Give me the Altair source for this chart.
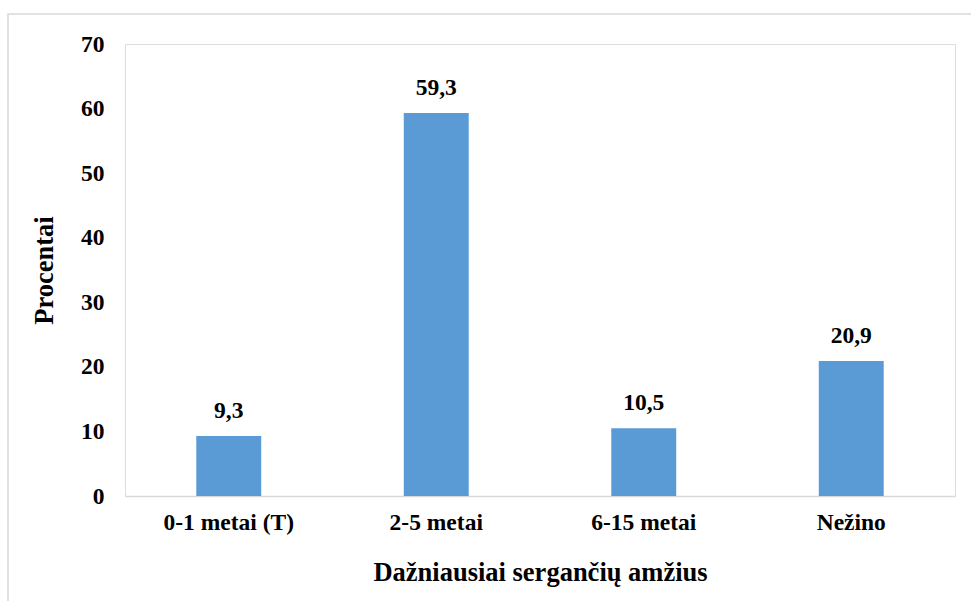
import altair as alt
import pandas as pd

categories = ["0-1 metai (T)", "2-5 metai", "6-15 metai", "Nežino"]
values = [9.3, 59.3, 10.5, 20.9]

df = pd.DataFrame({"cat": categories, "v": values})

FONT = "Liberation Serif"

base = alt.Chart(df)

x_enc = alt.X(
    "cat:N",
    sort=categories,
    scale=alt.Scale(paddingInner=0.687, paddingOuter=0.3435),
    axis=alt.Axis(
        title="Dažniausiai sergančių amžius",
        labelAngle=0,
        labelFont=FONT,
        labelFontSize=23.5,
        labelFontWeight="bold",
        labelColor="#000000",
        labelPadding=14,
        ticks=False,
        domainColor="#d9d9d9",
        domainWidth=1.5,
        titleFont=FONT,
        titleFontSize=26.5,
        titleFontWeight="bold",
        titleColor="#000000",
        titlePadding=26,
        grid=False,
    ),
)
y_enc = alt.Y(
    "v:Q",
    scale=alt.Scale(domain=[0, 70]),
    axis=alt.Axis(
        title="Procentai",
        values=[0, 10, 20, 30, 40, 50, 60, 70],
        labelFont=FONT,
        labelFontSize=23.5,
        labelFontWeight="bold",
        labelColor="#000000",
        labelPadding=21,
        ticks=False,
        domain=False,
        grid=False,
        titleFont=FONT,
        titleFontSize=26.5,
        titleFontWeight="bold",
        titleColor="#000000",
        titlePadding=22,
    ),
)

bars = base.mark_bar(color="#5b9bd5").encode(x=x_enc, y=y_enc)

labels = base.transform_calculate(
    lab="replace(format(datum.v, '.1f'), '.', ',')"
).mark_text(
    font=FONT, fontSize=23.5, fontWeight="bold", color="#000000", baseline="alphabetic", dy=-18
).encode(x=alt.X("cat:N", sort=categories), y="v:Q", text="lab:N")

frame = alt.Chart(pd.DataFrame({"a": [0]})).mark_rect(
    fill=None, stroke="#d9d9d9", strokeWidth=1.5
).encode(
    x=alt.value(-117), x2=alt.value(860), y=alt.value(-30), y2=alt.value(570)
)

chart = alt.layer(frame, bars, labels).properties(
    width=830,
    height=452,
    autosize=alt.AutoSizeParams(type="none"),
    padding={"left": 125, "top": 44, "right": 16, "bottom": 105},
).configure_view(stroke=None).configure(background="white")

chart.save("out.html", embed_options={"renderer": "svg", "actions": False})
